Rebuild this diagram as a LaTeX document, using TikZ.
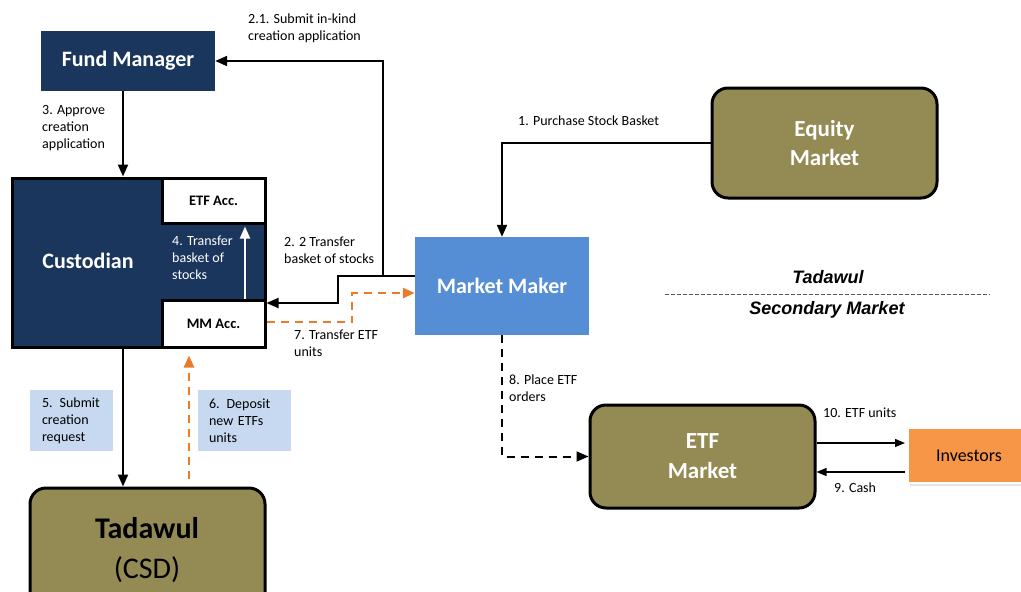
\documentclass[tikz,border=0pt]{standalone}
\usepackage{fontspec}
\setmainfont{Carlito}
\newfontfamily\arialf{Liberation Sans}
\usetikzlibrary{arrows.meta,calc}
\definecolor{navy}{HTML}{1B365D}
\definecolor{olive}{HTML}{948A54}
\definecolor{mmblue}{HTML}{558ED5}
\definecolor{lblue}{HTML}{C6D9F1}
\definecolor{invorange}{HTML}{F79646}
\definecolor{arrorange}{HTML}{E97B2C}
\tikzset{
  navybox/.style={fill=navy, inner sep=0pt, text=white, font=\fontsize{22}{26}\selectfont\bfseries},
  accbox/.style={fill=white, draw=black, line width=3pt, inner sep=0pt, font=\fontsize{14.5}{17}\selectfont\bfseries},
  olivebox/.style={fill=olive, draw=black, line width=3pt, rounded corners=16pt, inner sep=0pt, align=center},
  lbl/.style={inner sep=0pt, align=left, font=\fontsize{14}{17}\selectfont},
  lbox/.style={fill=lblue, inner ysep=0pt, minimum height=61pt, align=left, font=\fontsize{14}{17}\selectfont},
  conn/.style={line width=2pt, -{Triangle[length=12pt,width=10pt]}},
  thinconn/.style={line width=1.3pt, -{Triangle[length=10pt,width=8pt]}},
  dconn/.style={line width=2pt, dash pattern=on 8pt off 6pt, -{Triangle[length=12pt,width=10pt]}},
  oconn/.style={line width=2.5pt, draw=arrorange, dash pattern=on 8pt off 6pt, -{Triangle[length=12pt,width=10pt,fill=arrorange]}},
}
\begin{document}
\begin{tikzpicture}[x=1pt,y=-1pt]
\useasboundingbox (0,0) rectangle (1021,592);
\clip (0,0) rectangle (1021,592);
\fill[white] (0,0) rectangle (1021,592);

% boxes
\node[navybox, minimum width=174pt, minimum height=60pt] (fm) at (128,61) {Fund Manager};
\node[fill=navy, draw=black, line width=3pt, inner sep=0pt, minimum width=253pt, minimum height=169pt] (cust) at (138.5,262.5) {};
\node[inner sep=0pt, text=white, font=\fontsize{22}{26}\selectfont\bfseries] (custtext) at (88,261) {Custodian};
\node[accbox, minimum width=103pt, minimum height=45pt] (etfacc) at (213.5,200.5) {ETF Acc.};
\node[accbox, minimum width=103pt, minimum height=47pt] (mmacc) at (213.5,323.5) {MM Acc.};
\node[fill=mmblue, inner sep=0pt, text=white, minimum width=174pt, minimum height=98pt, font=\fontsize{22}{26}\selectfont\bfseries] (mmk) at (502,286) {Market Maker};
\node[olivebox, minimum width=225pt, minimum height=110pt, text=white, font=\fontsize{23}{29}\selectfont\bfseries] (eq) at (824.5,143) {Equity\\Market};
\node[olivebox, minimum width=225pt, minimum height=103pt, text=white, font=\fontsize{23}{30}\selectfont\bfseries] (etfm) at (702.5,456.5) {ETF\\Market};
\node[olivebox, minimum width=235pt, minimum height=130pt] (csd) at (147.5,553) {};
\node[inner sep=0pt, font=\fontsize{30}{36}\selectfont\bfseries] (csdt1) at (147,528) {Tadawul};
\node[inner sep=0pt, font=\fontsize{30}{36}\selectfont] (csdt2) at (147,570) {(CSD)};
% investors
\fill[black!10] (910,431) rectangle (1035,486);
\node[fill=invorange, draw=white, line width=2pt, inner sep=0pt, minimum width=122pt, minimum height=55pt, font=\fontsize{18}{22}\selectfont] (inv) at (969,455.5) {Investors};

% separator
\coordinate (s1) at (665,294);
\coordinate (s2) at (990,294);
\draw[black!65, line width=1pt, dash pattern=on 4pt off 2pt] (s1) -- (s2);
\node[inner sep=0pt, font=\arialf\fontsize{18}{22}\selectfont\bfseries\itshape] (tad) at (828,277) {Tadawul};
\node[inner sep=0pt, font=\arialf\fontsize{18}{22}\selectfont\bfseries\itshape] (sec) at (827,310) {Secondary Market};

% helper coordinates
\coordinate (j) at (383,276);
\coordinate (k) at (338,276);
\coordinate (k2) at (338,303);
\coordinate (o1) at (352,322);
\coordinate (o2) at (352,293);
\coordinate (c3) at (123,0);
\coordinate (c4) at (245,0);
\coordinate (c6) at (189,0);
\coordinate (a10) at (0,443);
\coordinate (a9) at (0,472);

% connectors
\draw[conn] (eq.west) -| (mmk.north);
\draw[conn] (mmk.west |- j) -- (j) |- (fm.east);
\draw[conn] (j) -- (k) -- (k2) -- (mmacc.east |- k2);
\draw[oconn] (mmacc.east |- o1) -- (o1) -- (o2) -- (mmk.west |- o2);
\draw[conn] (fm.south -| c3) -- (cust.north -| c3);
\draw[conn] (cust.south -| c3) -- (csd.north -| c3);
\draw[oconn, shorten <=8pt, shorten >=7pt] (csd.north -| c6) -- (mmacc.south -| c6);
\draw[line width=2pt, white, -{Triangle[length=12pt,width=10pt]}, shorten >=2pt] (mmacc.north -| c4) -- (etfacc.south -| c4);
\draw[dconn] (mmk.south) |- (etfm.west);
\draw[thinconn, shorten >=2pt] (etfm.east |- a10) -- (inv.west |- a10);
\draw[thinconn, shorten <=2pt] (inv.west |- a9) -- (etfm.east |- a9);

% labels
\node[lbl, anchor=west] (l21) at (248,28) {2.1. Submit in-kind\\creation application};
\node[lbl, anchor=west] (l1) at (518,121) {1. Purchase Stock Basket};
\node[lbl, anchor=west] (l3) at (42,128) {3. Approve\\creation\\application};
\node[lbl, anchor=west] (l22) at (284,250.5) {2. 2 Transfer\\basket of stocks};
\node[lbl, anchor=west, text=white] (l4) at (172,258) {4. Transfer\\basket of\\stocks};
\node[lbl, anchor=west] (l7) at (294,343.5) {7. Transfer ETF\\units};
\node[lbl, anchor=west] (l8) at (509,388.5) {8. Place ETF\\orders};
\node[lbl, anchor=west] (l10) at (823,413) {10. ETF units};
\node[lbl, anchor=west] (l9) at (834,488) {9. Cash};
\node[lbox, inner xsep=12pt, text width=59pt] (l5) at (71.5,420.5) {5. Submit\\creation\\request};
\node[lbox, inner xsep=11pt, text width=71pt] (l6) at (244.5,420.5) {6. Deposit\\new ETFs\\units};
\end{tikzpicture}
\end{document}
